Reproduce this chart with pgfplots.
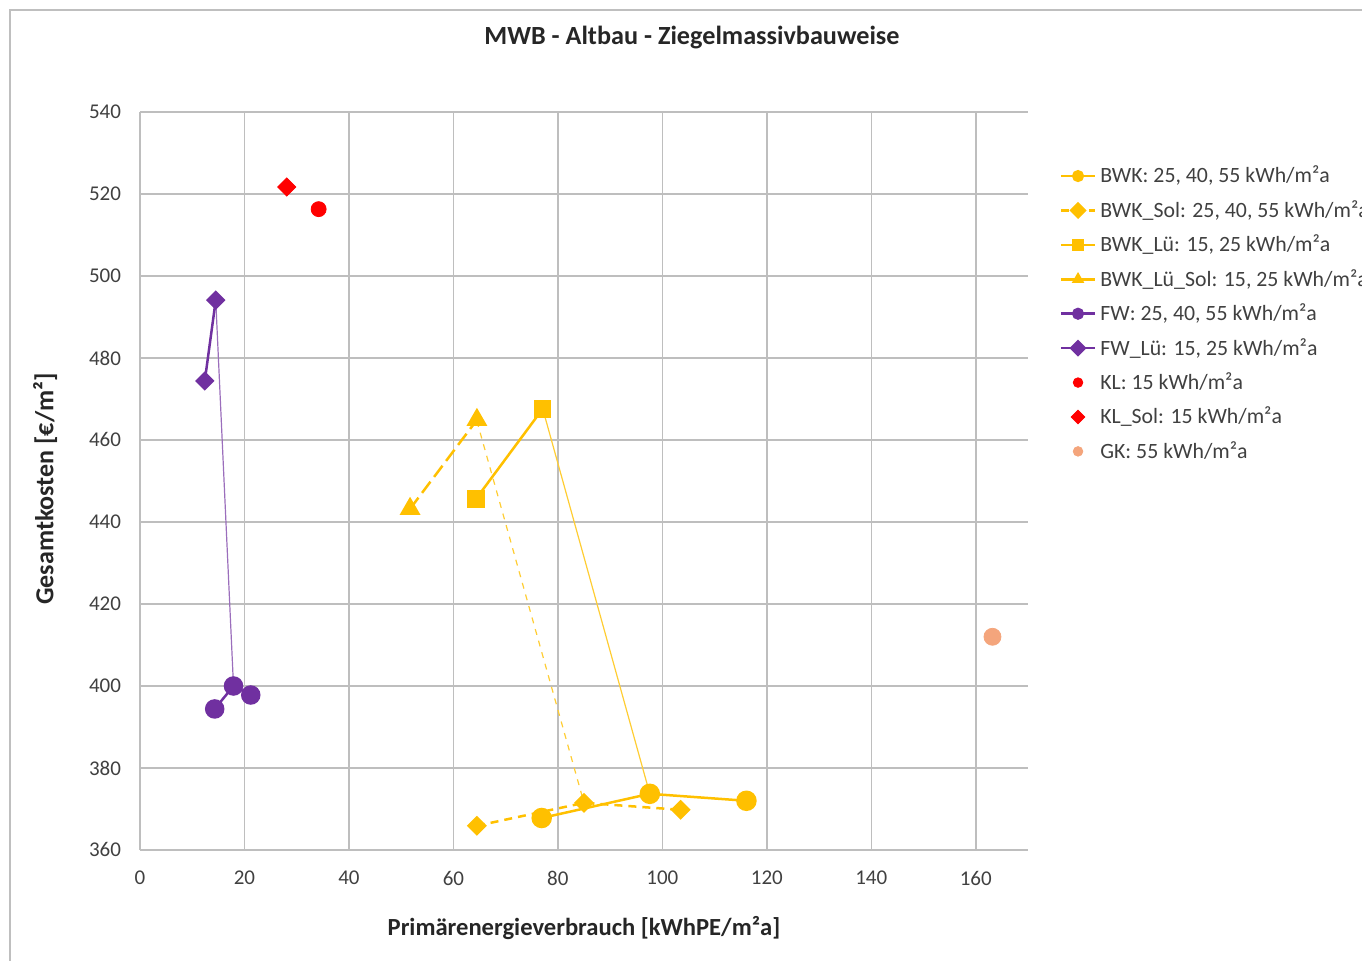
\documentclass[border=0pt]{standalone}
\usepackage{pgfplots}
\pgfplotsset{compat=1.18}
\usepackage{fontspec}
\setmainfont{Carlito}
\definecolor{cY}{HTML}{FFC000}
\definecolor{cP}{HTML}{7030A0}
\definecolor{cR}{HTML}{FF0000}
\definecolor{cG}{HTML}{F4A57C}
\definecolor{grd}{HTML}{BEBEBE}
\definecolor{txt}{HTML}{404040}
\begin{document}
\begin{tikzpicture}[x=0.5pt,y=0.5pt]
\useasboundingbox (0,0) rectangle (1362,961);
\draw[color=black!25,line width=1pt] (10,-20) -- (10,951) -- (1400,951);
\node[font=\bfseries\fontsize{13.1}{15}\selectfont,text=black!85] at (692,923) {MWB - Altbau - Ziegelmassivbauweise};
\begin{axis}[
  at={(70pt,55.5pt)}, anchor=south west,
  scale only axis, width=444pt, height=369pt,
  xmin=0, xmax=170, ymin=360, ymax=540,
  xtick={0,20,...,160}, ytick={360,380,...,540},
  grid=major, major grid style={grd,line width=0.75pt},
  axis line style={draw=none}, tick style={draw=none},
  /pgf/number format/assume math mode=true,
  ticklabel style={font=\fontsize{10.5}{12}\selectfont,text=txt},
  xticklabel style={yshift=-7pt},
  yticklabel style={xshift=-6pt},
  xlabel={Primärenergieverbrauch [kWhPE/m²a]},
  ylabel={Gesamtkosten [€/m²]},
  xlabel style={font=\bfseries\fontsize{12.3}{14}\selectfont,text=black!85,yshift=-8.5pt},
  ylabel style={font=\bfseries\fontsize{13}{15}\selectfont,text=black!85,yshift=9pt,xshift=-4pt},
  legend style={at={(1.0285,0.938)}, anchor=north west, draw=none, fill=none,
    font=\fontsize{10.9}{12.5}\selectfont, text=txt, row sep=3.3pt},
  legend image post style={mark size=2.4pt},
  legend cell align=left,
  clip=false,
]
% thin connecting lines
\addplot[cY!80,line width=0.6pt,forget plot] coordinates {(77.1,467.6) (97.6,373.7)};
\addplot[cY!80,line width=0.6pt,dashed,forget plot] coordinates {(64.5,464.6) (85.0,371.5)};
\addplot[cP!70,line width=0.6pt,forget plot] coordinates {(14.5,494.1) (17.9,400.0)};
% series
\addplot[cY,line width=1.25pt,mark=*,mark size=4.5pt,mark options={solid,fill=cY}] coordinates {(76.9,367.8) (97.6,373.7) (116.1,372.0)};
\addlegendentry{BWK: 25, 40, 55 kWh/m²a}
\addplot[cY,line width=1.25pt,dash pattern=on 4pt off 3pt,mark=square*,mark size=2.9pt,mark options={solid,fill=cY,rotate=45}] coordinates {(64.5,365.9) (85.0,371.5) (103.5,369.8)};
\addlegendentry{BWK\_Sol: 25, 40, 55 kWh/m²a}
\addplot[cY,line width=1.25pt,mark=square*,mark size=3.75pt,mark options={solid,fill=cY}] coordinates {(64.3,445.6) (77.1,467.6)};
\addlegendentry{BWK\_Lü: 15, 25 kWh/m²a}
\addplot[cY,line width=1.25pt,dash pattern=on 7pt off 3pt,mark=triangle*,mark size=4.8pt,mark options={solid,fill=cY}] coordinates {(51.7,443.2) (64.5,464.9)};
\addlegendentry{BWK\_Lü\_Sol: 15, 25 kWh/m²a}
\addplot[cP,line width=1.25pt,mark=*,mark size=4.25pt,mark options={solid,fill=cP}] coordinates {(14.3,394.4) (17.9,400.0) (21.2,397.8)};
\addlegendentry{FW: 25, 40, 55 kWh/m²a}
\addplot[cP,line width=1.25pt,mark=square*,mark size=2.8pt,mark options={solid,fill=cP,rotate=45}] coordinates {(12.4,474.4) (14.5,494.1)};
\addlegendentry{FW\_Lü: 15, 25 kWh/m²a}
\addplot[only marks,mark=*,mark size=3.75pt,cR,mark options={fill=cR}] coordinates {(34.2,516.3)};
\addlegendentry{KL: 15 kWh/m²a}
\addplot[only marks,mark=square*,mark size=3.2pt,cR,mark options={fill=cR,rotate=45}] coordinates {(28.1,521.7)};
\addlegendentry{KL\_Sol: 15 kWh/m²a}
\addplot[only marks,mark=*,mark size=4.25pt,cG,mark options={fill=cG}] coordinates {(163.2,412.0)};
\addlegendentry{GK: 55 kWh/m²a}
\end{axis}
\end{tikzpicture}
\end{document}
